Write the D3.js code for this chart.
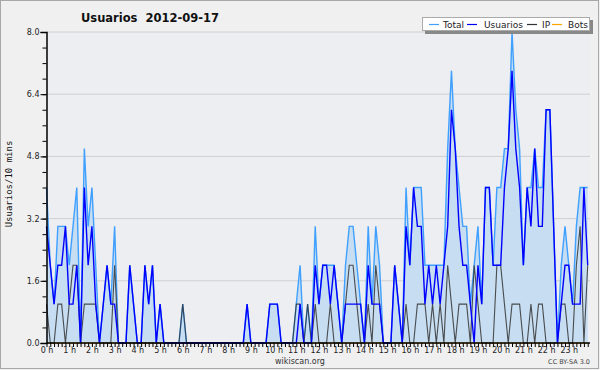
<!DOCTYPE html>
<html lang="es">
<head>
  <meta charset="UTF-8">
  <title>Usuarios 2012-09-17</title>
  <script src="https://cdn.jsdelivr.net/npm/d3@7"></script>
  <style>
    body { margin: 0; background: #fff; }
    svg text { font-family: "DejaVu Sans", sans-serif; }
  </style>
</head>
<body>
  <svg width="600" height="370"></svg>
  <script>
    // one value every 10 minutes, 144 slots
    var total = [
      4,2,1,3,3,3,2,3,4,0, 5,3,4,2,0,1,2,1,3,0, 0,0,2,1,0,0,2,1,2,0,
      1,0,0,0,0,0,1,0,0,0, 0,0,0,0,0,0,0,0,0,0, 0,0,0,1,0,0,0,0,0,1,
      1,1,0,0,0,0,1,2,0,1, 0,3,1,2,2,2,2,1,0,2, 3,3,2,1,0,3,1,3,2,0,
      0,0,2,1,0,4,2,4,4,4, 2,2,2,2,2,2,5,7,5,4, 3,3,1,2,3,1,4,4,2,4,
      4,5,5,8,6,5,2,4,4,5, 4,4,6,6,3,0,2,3,2,1, 3,4,4,4
    ]
    var usuarios = [
      3,2,1,2,2,3,1,1,2,0, 4,2,3,1,0,1,2,1,1,0, 0,0,2,1,0,0,2,1,2,0,
      1,0,0,0,0,0,0,0,0,0, 0,0,0,0,0,0,0,0,0,0, 0,0,0,1,0,0,0,0,0,1,
      1,1,0,0,0,0,0,1,0,0, 0,2,1,2,2,1,2,1,0,1, 1,1,1,1,0,2,1,1,1,0,
      0,0,2,1,0,3,2,4,3,3, 1,2,1,2,1,2,3,6,5,3, 2,2,1,0,2,1,4,4,2,2,
      2,4,5,7,5,4,2,4,3,5, 3,3,6,6,3,0,1,2,2,1, 1,1,4,2
    ]
    var ip = [
      1,0,0,1,1,0,1,2,2,0, 1,1,1,1,0,0,0,0,2,0, 0,0,0,0,0,0,0,0,0,0,
      0,0,0,0,0,0,1,0,0,0, 0,0,0,0,0,0,0,0,0,0, 0,0,0,0,0,0,0,0,0,0,
      0,0,0,0,0,0,1,1,0,1, 0,1,0,0,0,1,0,0,0,1, 2,2,1,0,0,1,0,2,1,0,
      0,0,0,0,0,1,0,0,1,1, 1,0,1,0,1,0,2,1,0,1, 1,1,0,2,1,0,0,0,0,2,
      2,1,0,1,1,1,0,0,1,0, 1,1,0,0,0,0,1,1,0,0, 2,3,0,2
    ]
    var bots = [
      0,0,0,0,0,0,0,0,0,0, 0,0,0,0,0,0,0,0,0,0, 0,0,0,0,0,0,0,0,0,0,
      0,0,0,0,0,0,0,0,0,0, 0,0,0,0,0,0,0,0,0,0, 0,0,0,0,0,0,0,0,0,0,
      0,0,0,0,0,0,0,0,0,0, 0,0,0,0,0,0,0,0,0,0, 0,0,0,0,0,0,0,0,0,0,
      0,0,0,0,0,0,0,0,0,0, 0,0,0,0,0,0,0,0,0,0, 0,0,0,0,0,0,0,0,0,0,
      0,0,0,0,0,0,0,0,0,0, 0,0,0,0,0,0,0,0,0,0, 0,0,0,0
    ]
    var hourLabels = ['0 h','1 h','2 h','3 h','4 h','5 h','6 h','7 h','8 h','9 h','10 h','11 h',
      '12 h','13 h','14 h','15 h','16 h','17 h','18 h','19 h','20 h','21 h','22 h','23 h']
    var yTicks = [0, 1.6, 3.2, 4.8, 6.4, 8.0]
    var legendNames = ['Total', 'Usuarios', 'IP', 'Bots']
    var legendColors = ['#3fa0ff', '#0000ff', '#333333', '#ffa500']

    var svg = d3.select('svg')

    // outer frame
    svg.append('rect').attr('x', 0).attr('y', 0).attr('width', 600).attr('height', 370)
      .attr('fill', '#f0f0f0')
    svg.append('rect').attr('x', 0.5).attr('y', 0.5).attr('width', 598).attr('height', 368)
      .attr('fill', 'none').attr('stroke', '#a8a8a8')

    var x = d3.scaleLinear().domain([0, 144]).range([46.5, 591.5])
    var y = d3.scaleLinear().domain([0, 8]).range([343, 32])

    svg.append('rect')
      .attr('x', x(0)).attr('y', y(8))
      .attr('width', 590 - x(0)).attr('height', y(0) - y(8))
      .attr('fill', '#eceef1')

    // grid
    svg.append('g').selectAll('line')
      .data(yTicks.slice(1))
      .enter().append('line')
      .attr('x1', x(0)).attr('x2', 590)
      .attr('y1', d => y(d)).attr('y2', d => y(d))
      .attr('stroke', '#cfcfcf')

    var idx = d3.range(144)
    var area = d3.area().x(i => x(i)).y0(y(0)).y1(i => y(total[i]))
    svg.append('path').attr('d', area(idx)).attr('fill', '#c7ddf1')

    function line(vals) {
      return d3.line().x(i => x(i)).y(i => y(vals[i]))(idx)
    }
    svg.append('path').attr('d', line(bots)).attr('fill', 'none')
      .attr('stroke', legendColors[3]).attr('stroke-width', 1.2)
    svg.append('path').attr('d', line(total)).attr('fill', 'none')
      .attr('stroke', legendColors[0]).attr('stroke-width', 1.4)
    svg.append('path').attr('d', line(ip)).attr('fill', 'none')
      .attr('stroke', legendColors[2]).attr('stroke-width', 1.1).attr('stroke-opacity', 0.85)
    svg.append('path').attr('d', line(usuarios)).attr('fill', 'none')
      .attr('stroke', legendColors[1]).attr('stroke-width', 1.4)

    // y axis
    var yMinor = d3.range(0, 8.01, 0.4)
    svg.append('g').attr('transform', 'translate(' + x(0) + ',0)')
      .call(d3.axisLeft(y).tickValues(yMinor).tickSize(4).tickFormat(''))
      .call(g => g.select('.domain').remove())
      .selectAll('line').attr('stroke', '#000')
    var yAxis = svg.append('g').attr('transform', 'translate(' + x(0) + ',0)')
      .call(d3.axisLeft(y).tickValues(yTicks).tickSize(6).tickPadding(1).tickFormat(d3.format('.1f')))
    yAxis.select('.domain').attr('stroke', '#000').attr('stroke-width', 1.5)
    yAxis.selectAll('text').attr('font-size', 8).attr('fill', '#222')
      .style('font-family', '"DejaVu Sans", sans-serif')

    // x axis
    var xAxis = svg.append('g').attr('transform', 'translate(0,' + y(0) + ')')
      .call(d3.axisBottom(x).tickValues(d3.range(0, 144)).tickSize(4).tickFormat(''))
    xAxis.select('.domain').attr('d', 'M' + x(0) + ',0H590').attr('stroke', '#000').attr('stroke-width', 1.5)
    svg.append('g').attr('transform', 'translate(0,' + y(0) + ')')
      .call(d3.axisBottom(x).tickValues(d3.range(0, 144, 6)).tickSize(0).tickPadding(4)
        .tickFormat((d, k) => hourLabels[k]))
      .call(g => g.select('.domain').remove())
      .selectAll('text').attr('font-size', 8).attr('fill', '#222')
      .style('font-family', '"DejaVu Sans", sans-serif')

    // title
    svg.append('text').attr('x', 150).attr('y', 22).attr('text-anchor', 'middle')
      .attr('font-size', 11.5).attr('font-weight', 'bold').attr('fill', '#111')
      .attr('xml:space', 'preserve')
      .text('Usuarios  2012-09-17')

    // y axis title
    svg.append('text').attr('transform', 'translate(12,184) rotate(-90)')
      .attr('text-anchor', 'middle').attr('font-size', 9).attr('fill', '#111')
      .style('font-family', '"DejaVu Sans Mono", monospace')
      .text('Usuarios/10 mins')

    svg.append('text').attr('x', 300).attr('y', 364).attr('text-anchor', 'middle')
      .attr('font-size', 8).attr('fill', '#333').text('wikiscan.org')
    svg.append('text').attr('x', 590).attr('y', 364).attr('text-anchor', 'end')
      .attr('font-size', 6.5).attr('fill', '#444').text('CC BY-SA 3.0')

    // legend
    var lg = svg.append('g')
    lg.append('rect').attr('x', 425).attr('y', 20).attr('width', 168).attr('height', 14).attr('fill', '#888')
    lg.append('rect').attr('x', 422.5).attr('y', 17.5).attr('width', 167).attr('height', 13)
      .attr('fill', '#fff').attr('stroke', '#aaa')
    var legendX = [429, 467, 527, 552]
    var textDx = [14, 17, 15, 16]
    var items = lg.selectAll('.item').data(legendNames).enter().append('g')
      .attr('transform', (d, k) => 'translate(' + legendX[k] + ',24.5)')
    items.append('line').attr('x1', 0).attr('x2', 10).attr('y1', 0).attr('y2', 0)
      .attr('stroke', (d, k) => legendColors[k]).attr('stroke-width', 1.2)
    items.append('text').attr('x', (d, k) => textDx[k]).attr('y', 3.5).attr('font-size', 9).attr('fill', '#222')
      .text(d => d)
  </script>
</body>
</html>
